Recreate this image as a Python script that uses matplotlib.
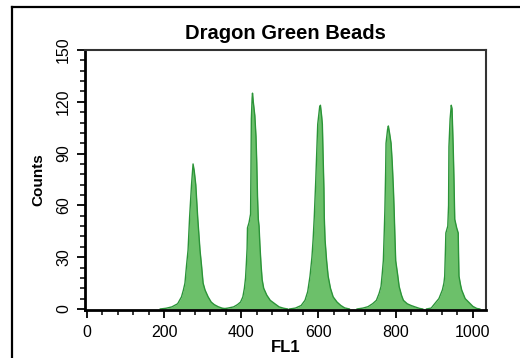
import matplotlib
matplotlib.use("Agg")
import matplotlib.pyplot as plt
from matplotlib.lines import Line2D
from matplotlib.ticker import MultipleLocator

plt.rcParams['font.family'] = ['Liberation Sans', 'DejaVu Sans']

# Histogram outlines (FL1 channel, counts)
peak1_x = [190, 205, 220, 235, 245, 250, 254, 258, 262, 266, 271, 275, 278, 282, 287, 293, 297, 301, 306, 314, 322, 330, 340, 350, 362]
peak1_y = [0, 0.4, 1.2, 3, 7, 11, 15, 25, 34, 53, 72, 84, 80, 72, 53, 34, 25, 15, 11, 7, 4, 2.5, 1.3, 0.5, 0]

peak2_x = [350, 365, 380, 390, 398, 404, 408, 411, 413, 415, 416, 420, 424, 425, 426, 428, 429, 431, 435, 438, 440, 442, 444, 446, 448, 451, 454, 458, 466, 475, 487, 498, 510, 520]
peak2_y = [0, 0.5, 1.2, 2.5, 4, 7, 12, 18, 26, 35, 47, 50, 55, 80, 110, 122, 125, 120, 112, 100, 85, 65, 52, 48, 38, 26, 17, 12, 8, 5, 3, 1.2, 0.4, 0]

peak3_x = [525, 540, 555, 565, 572, 578, 583, 586, 589, 593, 595, 598, 603, 605, 608, 610, 612, 614, 615, 617, 621, 625, 631, 638, 648, 658, 668, 680]
peak3_y = [0, 0.5, 2, 5, 10, 19, 30, 40, 53, 75, 88, 107, 117, 118, 112, 107, 88, 70, 53, 40, 28, 19, 12, 7, 4, 2, 0.6, 0]

peak4_x = [700, 715, 728, 740, 750, 757, 762, 765, 768, 770, 772, 774, 775, 779, 781, 784, 788, 791, 794, 796, 798, 800, 805, 809, 815, 820, 830, 840, 850, 862, 870]
peak4_y = [0, 0.5, 1.3, 3, 5, 9, 13, 20, 28, 42, 57, 80, 96, 104, 106, 102, 96, 85, 70, 57, 42, 28, 20, 13, 8, 5, 3, 2, 1.2, 0.3, 0]

peak5_x = [880, 892, 902, 912, 921, 925, 927, 929, 930, 935, 937, 938, 941, 944, 946, 949, 951, 953, 958, 962, 963, 964, 968, 971, 980, 992, 1000, 1010, 1018]
peak5_y = [0, 0.5, 3.3, 6, 11, 15, 19, 35, 44, 48, 60, 94, 110, 118, 116, 94, 75, 52, 47, 44, 30, 19, 14, 11, 6, 3.3, 1.5, 0.3, 0]

peaks = [(peak1_x, peak1_y), (peak2_x, peak2_y), (peak3_x, peak3_y),
         (peak4_x, peak4_y), (peak5_x, peak5_y)]

x_ticks = [0, 200, 400, 600, 800, 1000]
y_ticks = [0, 30, 60, 90, 120, 150]

fig = plt.figure(figsize=(5.2, 3.58), dpi=100)
ax = fig.add_axes([85 / 520, 48 / 358, 401 / 520, 260 / 358])

for px, py in peaks:
    ax.fill_between(px, py, 0, color='#6cc06a', linewidth=0)
    ax.plot(px, py, color='#2b9438', linewidth=1.0)

ax.set_xlim(-5, 1034)
ax.set_ylim(-0.6, 150)
ax.set_xticks(x_ticks)
ax.set_yticks(y_ticks)
ax.xaxis.set_minor_locator(MultipleLocator(40))
ax.yaxis.set_minor_locator(MultipleLocator(6))
ax.tick_params(which='major', length=6, width=1.3, labelsize=11.5, direction='out')
ax.tick_params(which='minor', length=3.5, width=1.1, direction='out')
ax.tick_params(axis='x', pad=5)
ax.tick_params(axis='y', pad=4)
for lbl in ax.get_yticklabels():
    lbl.set_rotation(90)
    lbl.set_va('center')

for side in ['left', 'bottom']:
    ax.spines[side].set_linewidth(2)
for side in ['top', 'right']:
    ax.spines[side].set_linewidth(1.5)
    ax.spines[side].set_color('#333333')

ax.set_title('Dragon Green Beads', fontsize=14.5, fontweight='bold', pad=8)
ax.set_ylabel('Counts', fontsize=11, fontweight='bold', labelpad=8)
ax.set_xlabel('FL1', fontsize=12, fontweight='bold', labelpad=0)

# outer frame (only left and top edges visible)
fig.add_artist(Line2D([12 / 520, 12 / 520], [0, 1 - 7 / 358], color='black', linewidth=1.6,
                      transform=fig.transFigure))
fig.add_artist(Line2D([12 / 520, 1], [1 - 7 / 358, 1 - 7 / 358], color='black', linewidth=1.6,
                      transform=fig.transFigure))

fig.savefig('out.png', dpi=100)
